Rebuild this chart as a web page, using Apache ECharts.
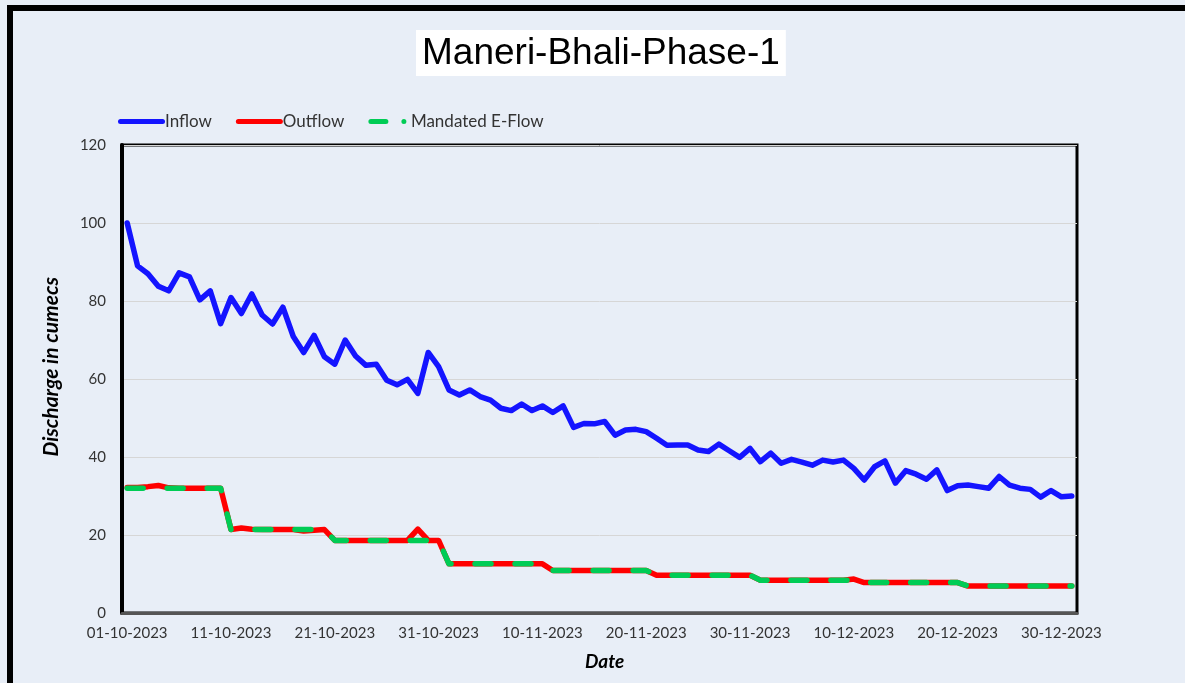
<!DOCTYPE html>
<html>
<head>
<meta charset="utf-8">
<script src="https://cdn.jsdelivr.net/npm/echarts@6/dist/echarts.min.js"></script>
<style>
  html, body { margin: 0; padding: 0; background: #e8eef7; }
  #frame {
    position: absolute; left: 7px; top: 5px; width: 1178px; height: 678px;
    border-left: 6px solid #000; border-top: 6px solid #000;
  }
  #main { position: absolute; left: 0; top: 0; width: 1185px; height: 683px; }
</style>
</head>
<body>
<div id="frame"></div>
<div id="main"></div>
<script>
'use strict'

// daily dates 01-10-2023 .. 31-12-2023
var dates = [];
var d = new Date(2023, 9, 1);
while (d <= new Date(2023, 11, 31)) {
    var dd = ('0' + d.getDate()).slice(-2);
    var mm = ('0' + (d.getMonth() + 1)).slice(-2);
    dates.push(dd + '-' + mm + '-' + d.getFullYear());
    d.setDate(d.getDate() + 1);
}

var inflow = [
    100, 89, 87, 83.8, 82.6, 87.2, 86.2, 80.3, 82.6, 74.2,
    80.9, 76.8, 81.8, 76.4, 74.1, 78.4, 70.9, 66.8, 71.2, 65.7,
    63.8, 70, 65.9, 63.5, 63.8, 59.7, 58.5, 59.9, 56.3, 66.8,
    63.2, 57.2, 55.9, 57.2, 55.5, 54.6, 52.5, 51.9, 53.6, 51.9,
    53.1, 51.4, 53.1, 47.6, 48.6, 48.5, 49.1, 45.6, 46.9, 47.1,
    46.5, 44.8, 43, 43.1, 43.1, 41.8, 41.4, 43.3, 41.6, 39.9,
    42.2, 38.8, 41, 38.4, 39.4, 38.7, 37.9, 39.2, 38.7, 39.2,
    37.1, 34.1, 37.5, 39, 33.3, 36.5, 35.6, 34.3, 36.7, 31.4,
    32.6, 32.8, 32.4, 32, 35, 32.8, 32, 31.7, 29.7, 31.4,
    29.8, 30
];

var outflow = [
    32.2, 32.2, 32.4, 32.7, 32.1, 32, 32, 32, 32, 32,
    21.4, 21.8, 21.5, 21.4, 21.4, 21.4, 21.4, 21.0, 21.2, 21.4,
    18.6, 18.6, 18.6, 18.6, 18.6, 18.6, 18.6, 18.6, 21.5, 18.6,
    18.6, 12.6, 12.6, 12.6, 12.6, 12.6, 12.6, 12.6, 12.6, 12.6,
    12.6, 10.9, 10.9, 10.9, 10.9, 10.9, 10.9, 10.9, 10.9, 10.9,
    10.9, 9.7, 9.7, 9.7, 9.7, 9.7, 9.7, 9.7, 9.7, 9.7,
    9.7, 8.4, 8.4, 8.4, 8.4, 8.4, 8.4, 8.4, 8.4, 8.4,
    8.7, 7.8, 7.8, 7.8, 7.8, 7.8, 7.8, 7.8, 7.8, 7.8,
    7.8, 6.9, 6.9, 6.9, 6.9, 6.9, 6.9, 6.9, 6.9, 6.9,
    6.9, 6.9
];

var eflow = [
    32, 32, 32, 32, 32, 32, 32, 32, 32, 32,
    21.4, 21.4, 21.4, 21.4, 21.4, 21.4, 21.4, 21.4, 21.4, 21.4,
    18.6, 18.6, 18.6, 18.6, 18.6, 18.6, 18.6, 18.6, 18.6, 18.6,
    18.6, 12.6, 12.6, 12.6, 12.6, 12.6, 12.6, 12.6, 12.6, 12.6,
    12.6, 10.9, 10.9, 10.9, 10.9, 10.9, 10.9, 10.9, 10.9, 10.9,
    10.9, 9.7, 9.7, 9.7, 9.7, 9.7, 9.7, 9.7, 9.7, 9.7,
    9.7, 8.4, 8.4, 8.4, 8.4, 8.4, 8.4, 8.4, 8.4, 8.4,
    8.4, 7.8, 7.8, 7.8, 7.8, 7.8, 7.8, 7.8, 7.8, 7.8,
    7.8, 6.9, 6.9, 6.9, 6.9, 6.9, 6.9, 6.9, 6.9, 6.9,
    6.9, 6.9
];

var chart = echarts.init(document.getElementById('main'));

var labelFont = 'Lato, "Open Sans", sans-serif';
var lineIcon = 'path://M2.5,0H44.5A2.5,2.5,0,0,1,44.5,5H2.5A2.5,2.5,0,0,1,2.5,0Z';
var dashIcon = 'path://M2.5,0H17.5A2.5,2.5,0,0,1,17.5,5H2.5A2.5,2.5,0,0,1,2.5,0Z' +
    'M35.5,0A2.5,2.5,0,0,1,35.5,5A2.5,2.5,0,0,1,35.5,0Z';

var option = {
    backgroundColor: 'transparent',
    animation: false,
    title: {
        text: 'Maneri-Bhali-Phase-1',
        left: 416,
        top: 30,
        backgroundColor: '#fff',
        padding: [5, 6, 4, 6],
        textStyle: {
            fontFamily: '"Liberation Sans", Arial, sans-serif',
            fontWeight: 'normal',
            fontSize: 37,
            color: '#000'
        }
    },
    legend: {
        left: 113,
        top: 108,
        itemWidth: 47,
        itemHeight: 5,
        itemGap: 24,
        textStyle: {
            fontFamily: labelFont,
            fontSize: 17,
            color: '#333',
            padding: [0, 0, 0, -5]
        },
        data: [
            { name: 'Inflow', icon: lineIcon },
            { name: 'Outflow', icon: lineIcon },
            { name: 'Mandated E-Flow', icon: dashIcon }
        ]
    },
    grid: {
        show: true,
        left: 122,
        right: 108,
        top: 145,
        bottom: 70,
        borderColor: '#000',
        borderWidth: 3,
        backgroundColor: 'transparent'
    },
    xAxis: {
        type: 'category',
        data: dates,
        boundaryGap: true,
        axisLine: { lineStyle: { color: '#555', width: 3 } },
        axisTick: { show: false },
        axisLabel: {
            interval: 9,
            margin: 13,
            fontFamily: labelFont,
            fontSize: 15,
            color: '#333'
        }
    },
    yAxis: {
        type: 'value',
        min: 0,
        max: 120,
        interval: 20,
        axisLine: { show: true, lineStyle: { color: '#000', width: 4 } },
        axisTick: { show: false },
        axisLabel: {
            margin: 16,
            fontFamily: labelFont,
            fontSize: 15,
            color: '#333'
        },
        splitLine: { lineStyle: { color: '#d6d6d6', width: 1 } }
    },
    graphic: [
        {
            type: 'text',
            left: 41,
            top: 277,
            rotation: Math.PI / 2,
            style: {
                text: 'Discharge in cumecs',
                fontFamily: labelFont,
                fontSize: 21,
                fontWeight: 'bold',
                fontStyle: 'italic',
                fill: '#000'
            }
        },
        {
            type: 'text',
            left: 585,
            top: 652,
            style: {
                text: 'Date',
                fontFamily: labelFont,
                fontSize: 19,
                fontWeight: 'bold',
                fontStyle: 'italic',
                fill: '#000'
            }
        }
    ],
    series: [
        {
            name: 'Inflow',
            type: 'line',
            data: inflow,
            showSymbol: false,
            symbol: 'none',
            itemStyle: { color: '#1414ff' },
            lineStyle: { color: '#1414ff', width: 5.5, join: 'round', cap: 'round' },
            z: 3
        },
        {
            name: 'Outflow',
            type: 'line',
            data: outflow,
            showSymbol: false,
            symbol: 'none',
            itemStyle: { color: '#ff0000' },
            lineStyle: { color: '#ff0000', width: 5.5, join: 'round', cap: 'round' },
            z: 4
        },
        {
            name: 'Mandated E-Flow',
            type: 'line',
            data: eflow,
            showSymbol: false,
            symbol: 'none',
            itemStyle: { color: '#00cc55' },
            lineStyle: { color: '#00cc55', width: 5.5, type: [16, 24], cap: 'round', join: 'round' },
            z: 5
        }
    ]
};

chart.setOption(option);
</script>
</body>
</html>
